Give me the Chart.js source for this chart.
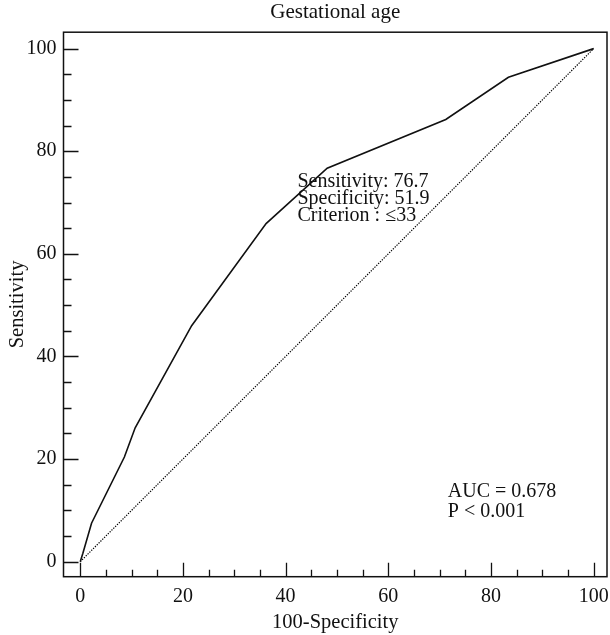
<!DOCTYPE html>
<html lang="en">
<head>
<meta charset="UTF-8">
<title>Gestational age</title>
<style>
  html, body { margin: 0; padding: 0; background: #fff; }
  #wrap { width: 610px; height: 635px; }
</style>
</head>
<body>
<script src="https://cdn.jsdelivr.net/npm/chart.js"></script>
<div id="wrap"><canvas id="roc" width="610" height="635"></canvas></div>
<script>
  // ROC points: x = 100-Specificity, y = Sensitivity
  const fpr = [0, 0.5, 2.2, 8.6, 10.7, 21.7, 36.2, 48.1, 71.2, 83.4, 100];
  const tpr = [0, 1.6, 7.5, 20.4, 26.1, 46.0, 65.9, 76.7, 86.2, 94.4, 100];
  const refX = [0, 100];
  const refY = [0, 100];
  const tickValues = [0, 20, 40, 60, 80, 100];
  const criterionText = ['Sensitivity: 76.7', 'Specificity: 51.9', 'Criterion : \u226433'];
  const aucText = ['AUC = 0.678', 'P < 0.001'];

  const FONT = '"Liberation Serif", "DejaVu Serif", serif';
  const INK = '#111';

  const toPts = (xs, ys) => xs.map((x, i) => ({ x: x, y: ys[i] }));

  // frame, inward ticks and text notes
  const framePlugin = {
    id: 'frame',
    afterDraw(chart) {
      const { ctx, chartArea: a, scales: { x, y } } = chart;
      ctx.save();
      ctx.strokeStyle = INK;
      ctx.lineWidth = 1.5;
      ctx.strokeRect(a.left, a.top, a.right - a.left, a.bottom - a.top);

      ctx.lineWidth = 1.3;
      ctx.beginPath();
      for (let v = 0; v <= 100; v += 5) {
        const len = v % 20 === 0 ? 15 : 8;
        const py = Math.round(y.getPixelForValue(v)) + 0.5;
        ctx.moveTo(a.left, py);
        ctx.lineTo(a.left + len, py);
        const px = Math.round(x.getPixelForValue(v)) + 0.5;
        ctx.moveTo(px, a.bottom);
        ctx.lineTo(px, a.bottom - (v % 20 === 0 ? 14 : 7));
      }
      ctx.stroke();

      ctx.fillStyle = INK;
      ctx.font = '20px ' + FONT;
      ctx.textAlign = 'left';
      ctx.textBaseline = 'alphabetic';
      let bx = x.getPixelForValue(42.3), by = 187;
      criterionText.forEach((t, i) => ctx.fillText(t, bx, by + i * 17));
      bx = x.getPixelForValue(71.6); by = 497;
      aucText.forEach((t, i) => ctx.fillText(t, bx, by + i * 20));
      ctx.restore();
    }
  };

  new Chart(document.getElementById('roc'), {
    type: 'scatter',
    data: {
      datasets: [{
        data: toPts(fpr, tpr),
        showLine: true,
        borderColor: INK,
        borderWidth: 1.6,
        pointRadius: 0,
        tension: 0
      }, {
        data: toPts(refX, refY),
        showLine: true,
        borderColor: '#000',
        borderWidth: 1.2,
        borderDash: [1.3, 1.3],
        pointRadius: 0
      }]
    },
    options: {
      responsive: false,
      animation: false,
      layout: { padding: { right: 3 } },
      plugins: {
        legend: { display: false },
        tooltip: { enabled: false },
        title: {
          display: true,
          text: 'Gestational age',
          fullSize: false,
          color: INK,
          font: { family: FONT, size: 21, weight: 'normal' },
          padding: { top: 0, bottom: 7 }
        }
      },
      scales: {
        x: {
          type: 'linear',
          min: -3.26,
          max: 102.6,
          afterBuildTicks: s => { s.ticks = tickValues.map(v => ({ value: v })); },
          afterFit: s => { s.height = 58.3; s.paddingLeft = 0; s.paddingRight = 0; },
          grid: { display: false, drawTicks: false },
          border: { display: false },
          ticks: { color: INK, padding: 8, font: { family: FONT, size: 20 } },
          title: {
            display: true,
            text: '100-Specificity',
            color: INK,
            font: { family: FONT, size: 20.5 },
            padding: { bottom: 0 }
          }
        },
        y: {
          type: 'linear',
          min: -2.93,
          max: 103.2,
          afterBuildTicks: s => { s.ticks = tickValues.map(v => ({ value: v })); },
          afterFit: s => { s.width = 63.5; s.paddingTop = 0; s.paddingBottom = 0; },
          grid: { display: false, drawTicks: false },
          border: { display: false },
          ticks: { color: INK, padding: 7, font: { family: FONT, size: 20 } },
          title: {
            display: true,
            text: 'Sensitivity',
            color: INK,
            font: { family: FONT, size: 20.5 },
            padding: { top: 5 }
          }
        }
      }
    },
    plugins: [framePlugin]
  });
</script>
</body>
</html>
